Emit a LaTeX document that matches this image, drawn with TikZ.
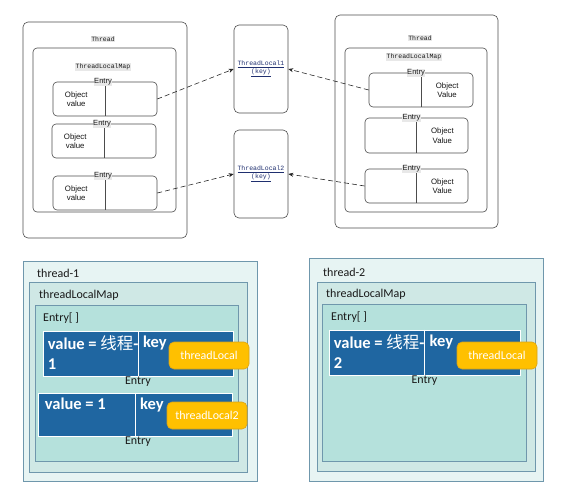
\documentclass[tikz,border=0pt]{standalone}
\usepackage{fontspec}
\setmainfont{Carlito}
\newfontfamily\cjk{Noto Sans CJK SC}
\newfontfamily\tinymono{Liberation Mono}
\newfontfamily\tinysans{Liberation Sans}
\usetikzlibrary{arrows.meta,calc}

\definecolor{frame}{HTML}{6F97AC}
\definecolor{toneA}{HTML}{E7F4F3}
\definecolor{toneB}{HTML}{CFE8E5}
\definecolor{toneC}{HTML}{B5E1DC}
\definecolor{rowblue}{HTML}{1F66A1}
\definecolor{amber}{HTML}{FFC000}
\definecolor{amberline}{HTML}{D7A21A}
\definecolor{linkblue}{HTML}{1F2F6F}

\begin{document}
\begin{tikzpicture}[
    x=1pt, y=-1pt,
    outerbox/.style={
        draw=gray!60!black,
        rounded corners=5pt,
        line width=0.6pt,
        inner sep=0pt
    },
    entrybox/.style={
        draw=gray!60!black,
        rounded corners=4pt,
        line width=0.6pt,
        inner sep=0pt,
        minimum width=104pt,
        minimum height=34pt
    },
    keybox/.style={
        outerbox,
        minimum width=54pt,
        minimum height=88pt,
        align=center,
        text=linkblue,
        font=\tinymono\fontsize{6.5}{8}\selectfont
    },
    tag/.style={fill=gray!18, inner sep=0.6pt, text=gray!20!black},
    monotag/.style={tag, font=\tinymono\fontsize{6.5}{8}\selectfont},
    sanstag/.style={tag, font=\tinysans\fontsize{7.5}{8}\selectfont},
    small/.style={align=center, text=gray!15!black, font=\tinysans\fontsize{7.8}{9.5}\selectfont},
    ref/.style={-{Stealth[length=5pt, width=4pt]}, dash pattern=on 5pt off 3pt, line width=0.6pt, draw=gray!30!black},
    layer/.style={draw=frame, line width=0.8pt, inner sep=0pt},
    rowbox/.style={fill=rowblue, draw=white, line width=0.8pt, inner sep=0pt},
    keytag/.style={
        fill=amber,
        draw=amberline,
        rounded corners=5pt,
        line width=0.6pt,
        minimum width=80pt,
        minimum height=27pt,
        text=white,
        font=\fontsize{12}{14}\selectfont
    },
    heading/.style={anchor=west, inner sep=0pt, text=gray!20!black, font=\fontsize{12}{14}\selectfont},
    strong/.style={anchor=north west, align=left, inner sep=0pt, text=white, font=\bfseries\fontsize{16.5}{20}\selectfont}
]
\useasboundingbox (0,0) rectangle (582,504);

\node[outerbox, minimum width=164pt, minimum height=216pt] (thread_l) at (105, 130) {};
\node[monotag] (thread_l_lbl) at (103, 39) {Thread};
\node[outerbox, rounded corners=4pt, minimum width=143pt, minimum height=164pt] (map_l) at (104.5, 130) {};
\node[monotag] (map_l_lbl) at (103, 67) {ThreadLocalMap};

\node[entrybox] (entry_l1) at (105, 99) {};
\node[entrybox] (entry_l2) at (104, 141) {};
\node[entrybox] (entry_l3) at (105, 193) {};

\node[outerbox, minimum width=163pt, minimum height=213pt] (thread_r) at (416.5, 121.5) {};
\node[monotag] (thread_r_lbl) at (420, 38) {Thread};
\node[outerbox, rounded corners=4pt, minimum width=142pt, minimum height=164pt] (map_r) at (416, 130) {};
\node[monotag] (map_r_lbl) at (414, 57) {ThreadLocalMap};

\node[entrybox] (entry_r1) at (421, 90) {};
\node[entrybox, minimum width=103pt, minimum height=35pt] (entry_r2) at (416.5, 135.5) {};
\node[entrybox, minimum width=103pt] (entry_r3) at (416.5, 186) {};

\node[keybox] (tl_one) at (261, 69) {\underline{ThreadLocal1}\\\underline{(key)}};
\node[keybox] (tl_two) at (261, 174) {\underline{ThreadLocal2}\\\underline{(key)}};

\foreach \e in {entry_l1, entry_l2, entry_l3} {
    \draw[gray!60!black, line width=0.6pt] (\e.north) -- (\e.south);
    \node[small] at ($(\e.west)!0.45!(\e.center)$) {Object\\value};
    \node[sanstag] at ([xshift=-2pt]\e.north) {Entry};
}
\foreach \e in {entry_r1, entry_r2, entry_r3} {
    \draw[gray!60!black, line width=0.6pt] (\e.north) -- (\e.south);
    \node[small] at ($(\e.east)!0.5!(\e.center)$) {Object\\Value};
    \node[sanstag] at ([xshift=-5pt]\e.north) {Entry};
}

\draw[ref] (entry_l1.east) -- (tl_one.west);
\draw[ref] (entry_r1.west) -- (tl_one.east);
\draw[ref] (entry_l3.east) -- (tl_two.west);
\draw[ref] (entry_r3.west) -- (tl_two.east);

\node[layer, fill=toneA, minimum width=234pt, minimum height=220pt] (thread_one) at (140, 371) {};
\node[layer, fill=toneB, minimum width=218pt, minimum height=190pt] (map_one) at (138, 377) {};
\node[layer, fill=toneC, minimum width=203pt, minimum height=156pt] (arr_one) at (136.5, 383) {};
\node[heading] (thread_one_lbl) at (37, 273) {thread-1};
\node[heading] (map_one_lbl) at (39, 295) {threadLocalMap};
\node[heading] (arr_one_lbl) at (43, 318) {Entry[ ]};

\node[rowbox, minimum width=190pt, minimum height=45pt] (row_one) at (138, 353.5) {};
\node[rowbox, minimum width=194pt, minimum height=43pt] (row_two) at (135, 414.5) {};
\draw[white, line width=0.8pt] (row_one.north) -- (row_one.south);
\draw[white, line width=0.8pt] (row_two.north) -- (row_two.south);
\node[strong] (val_one) at ([xshift=5pt, yshift=-5pt]row_one.north west) {value = {\cjk\mdseries 线程}-\\1};
\node[strong] (key_one) at ([xshift=5pt, yshift=-5pt]row_one.north) {key};
\node[strong] (val_two) at ([xshift=7pt, yshift=-5pt]row_two.north west) {value = 1};
\node[strong] (key_two) at ([xshift=5pt, yshift=-5pt]row_two.north) {key};
\node[keytag] (ref_one) at (209, 355.5) {threadLocal};
\node[keytag] (ref_two) at (207, 415.5) {threadLocal2};
\node[heading, anchor=north] (row_one_lbl) at (row_one.south) {Entry};
\node[heading, anchor=north] (row_two_lbl) at ([xshift=3pt]row_two.south) {Entry};

\node[layer, fill=toneA, minimum width=234pt, minimum height=223pt] (thread_two) at (426, 369.5) {};
\node[layer, fill=toneB, minimum width=218pt, minimum height=189pt] (map_two) at (426, 376.5) {};
\node[layer, fill=toneC, minimum width=204pt, minimum height=157pt] (arr_two) at (424, 382.5) {};
\node[heading] (thread_two_lbl) at (323, 272) {thread-2};
\node[heading] (map_two_lbl) at (326, 294) {threadLocalMap};
\node[heading] (arr_two_lbl) at (331, 317) {Entry[ ]};

\node[rowbox, minimum width=191pt, minimum height=45pt] (row_three) at (424.5, 352.5) {};
\draw[white, line width=0.8pt] (row_three.north) -- (row_three.south);
\node[strong] (val_three) at ([xshift=5pt, yshift=-5pt]row_three.north west) {value = {\cjk\mdseries 线程}-\\2};
\node[strong] (key_three) at ([xshift=5pt, yshift=-5pt]row_three.north) {key};
\node[keytag] (ref_three) at (497, 355.5) {threadLocal};
\node[heading, anchor=north] (row_three_lbl) at (row_three.south) {Entry};

\end{tikzpicture}
\end{document}
